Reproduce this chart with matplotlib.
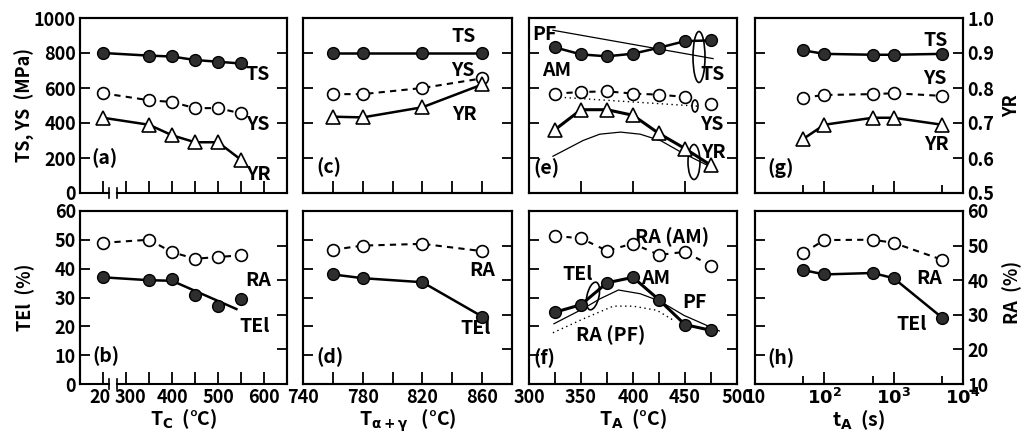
import numpy as np
import matplotlib
matplotlib.use('Agg')
import matplotlib.pyplot as plt
import matplotlib.transforms as mtransforms
from matplotlib.patches import Ellipse

plt.rcParams['font.family'] = ['Noto Sans CJK JP', 'DejaVu Sans']
plt.rcParams['font.weight'] = 'bold'
plt.rcParams['axes.labelweight'] = 'bold'
plt.rcParams['mathtext.fontset'] = 'dejavusans'
plt.rcParams['mathtext.default'] = 'bf'
plt.rcParams['font.size'] = 13

# ---- data ----
# (a),(b): cooling temperature Tc (20 = room temp, drawn past an axis break)
tc = [20, 350, 400, 450, 500, 550]
a_ts = [800, 785, 780, 760, 750, 740]
a_ys = [570, 530, 520, 485, 485, 455]
a_yr = [0.715, 0.695, 0.665, 0.645, 0.645, 0.595]
b_tel = [37, 36, 36.5, 31, 27, 29.5]
b_tel_fit_x = [20, 350, 400, 540]
b_tel_fit = [37, 36, 35.8, 26]
b_ra = [50.8, 51.7, 48.1, 46.2, 46.7, 47.2]

# (c),(d): intercritical annealing temperature
tag = [760, 780, 820, 860]
c_ts = [800, 800, 800, 800]
c_ys = [565, 565, 600, 655]
c_yr = [0.718, 0.716, 0.745, 0.81]
d_tel = [38, 36.7, 35.3, 23.4]
d_ra = [48.8, 50.0, 50.5, 48.4]

# (e),(f): austempering temperature
ta = [325, 350, 375, 400, 425, 450, 475]
e_ts_am = [832, 792, 781, 796, 830, 868, 872]
e_ts_pf_x = [323, 477]
e_ts_pf = [930, 768]
e_ys_am = [568, 577, 581, 568, 562, 549]
e_ys_last = 510
e_ys_pf_x = [325, 463]
e_ys_pf = [549, 496]
e_yr_am = [0.681, 0.738, 0.738, 0.722, 0.670, 0.627, 0.579]
e_yr_pf_x = [323, 352, 368, 388, 407, 427, 446, 475]
e_yr_pf = [0.605, 0.650, 0.668, 0.674, 0.668, 0.649, 0.617, 0.574]
f_tel_am = [24.9, 27.5, 35.1, 37.0, 29.2, 20.6, 18.6]
f_tel_pf_x = [324, 352, 368, 386, 407, 426, 449, 483]
f_tel_pf = [20.9, 26.1, 29.5, 32.6, 31.3, 28.7, 23.8, 18.4]
f_ra_am = [52.8, 52.1, 48.5, 50.6, 47.3, 48.2, 44.2]
f_ra_pf_x = [323, 352, 381, 400, 423, 439]
f_ra_pf = [24.8, 28.8, 32.5, 32.5, 31.3, 28.4]

# (g),(h): austempering time
tA = [50, 100, 500, 1000, 5000]
g_ts = [815, 795, 790, 790, 795]
g_ys = [545, 560, 565, 570, 555]
g_yr = [0.655, 0.695, 0.715, 0.715, 0.695]
h_tel = [39.5, 38, 38.5, 36.7, 23]
h_ra = [47.9, 51.6, 51.7, 50.8, 45.9]

# ---- layout in pixels of the 1024x443 figure ----
W, H = 1024, 443
PX = [80, 303, 529, 755]
PW = [207, 209, 208, 208]
ROWS = [(18, 193), (211, 384)]


def rect(col, row):
    top, bot = ROWS[row]
    return [PX[col] / W, 1 - bot / H, PW[col] / W, (bot - top) / H]


def frac(col, row, x, y):
    top, bot = ROWS[row]
    return (x - PX[col]) / PW[col], (bot - y) / (bot - top)


def label(ax, col, row, x, y, s, ha='center'):
    fx, fy = frac(col, row, x, y)
    ax.text(fx, fy, s, transform=ax.transAxes, ha=ha, va='center', fontsize=14)


def loop(ax, col, row, x, y, w, h, angle=0):
    fx, fy = frac(col, row, x, y)
    top, bot = ROWS[row]
    ax.add_patch(Ellipse((fx, fy), w / PW[col], h / (bot - top), angle=angle,
                         transform=ax.transAxes, fill=False, lw=1.2, color='k'))


def filled(ax, x, y, lw=1.8, ls='-'):
    ax.plot(x, y, ls, color='k', lw=lw, marker='o', ms=8.5, mfc='#2e2e2e',
            mec='k', mew=1.0, zorder=4)


def opened(ax, x, y, ls=(0, (3, 2.5))):
    ax.plot(x, y, color='k', lw=1.5, ls=ls, marker='o', ms=8.5, mfc='white',
            mec='k', mew=1.2, zorder=4)


def tri(ax, x, y, lw=1.8):
    ax.plot(x, y, color='k', lw=lw, marker='^', ms=10, mfc='white', mec='k',
            mew=1.2, zorder=4)


fig = plt.figure(figsize=(W / 100, H / 100), dpi=100)

axes = {}
for col in range(4):
    for row in range(2):
        ax = fig.add_axes(rect(col, row))
        ax2 = ax.twinx()
        axes[(col, row)] = (ax, ax2)
        for a in (ax, ax2):
            for sp in a.spines.values():
                sp.set_linewidth(1.5)
        if row == 0:
            ax.set_ylim(0, 1000)
            ax.set_yticks(range(0, 1001, 200))
            ax2.set_ylim(0.5, 1.0)
            ax2.set_yticks(np.round(np.arange(0.5, 1.01, 0.1), 1))
        else:
            ax.set_ylim(0, 60)
            ax.set_yticks(range(0, 61, 10))
            ax2.set_ylim(10, 60)
            ax2.set_yticks(range(10, 61, 10))
        ax.tick_params(axis='y', direction='in', length=7, width=1.3,
                       left=True, right=False, labelleft=(col == 0), pad=3)
        ax2.tick_params(axis='y', direction='in', length=7, width=1.3,
                        left=False, right=True, labelright=(col == 3), pad=3)
        ax.tick_params(axis='x', direction='in', length=9, width=1.3,
                       which='both', labelbottom=(row == 1), pad=3)
        ax2.tick_params(axis='x', bottom=False, top=False)
        if col == 3 and row == 0:
            ax2.set_yticklabels(['0.5', '0.6', '0.7', '0.8', '0.9', '1.0'])

# ---- (a),(b) ----
pos20 = 250  # axis position used for the 20 degC point before the break
tc_pos = [pos20 if t == 20 else t for t in tc]
fit_pos = [pos20 if t == 20 else t for t in b_tel_fit_x]
for row in range(2):
    ax, ax2 = axes[(0, row)]
    ax.set_xlim(200, 650)
    ax.set_xticks([250, 300, 350, 400, 450, 500, 550, 600])
    ax.set_xticklabels(['20', '300', '', '400', '', '500', '', '600'])
    ax.spines['bottom'].set_visible(False)
    ax2.spines['bottom'].set_visible(False)
    tr = ax.get_xaxis_transform()
    ax.plot([200, 262], [0, 0], color='k', lw=1.5, transform=tr, clip_on=False)
    ax.plot([281, 650], [0, 0], color='k', lw=1.5, transform=tr, clip_on=False)
    for xb in (262, 281):
        ax.plot([xb, xb], [-0.03, 0.03], color='k', lw=1.2, transform=tr,
                clip_on=False)
# spread "20" and "300" apart a little, as in the original
tl = axes[(0, 1)][0].get_xticklabels()
tl[0].set_transform(tl[0].get_transform() +
                    mtransforms.ScaledTranslation(-3 / 100, 0, fig.dpi_scale_trans))
tl[1].set_transform(tl[1].get_transform() +
                    mtransforms.ScaledTranslation(4 / 100, 0, fig.dpi_scale_trans))

ax, ax2 = axes[(0, 0)]
filled(ax, tc_pos, a_ts)
opened(ax, tc_pos, a_ys)
tri(ax2, tc_pos, a_yr)
ax.set_ylabel('TS, YS  (MPa)')
ax.yaxis.set_label_coords(-0.215, 0.5)
label(ax, 0, 0, 258, 75, 'TS')
label(ax, 0, 0, 258, 125, 'YS')
label(ax, 0, 0, 258, 175, 'YR')
label(ax, 0, 0, 91, 158, '(a)', ha='left')

ax, ax2 = axes[(0, 1)]
ax.plot(fit_pos, b_tel_fit, color='k', lw=1.8, zorder=3)
ax.plot(tc_pos, b_tel, 'o', ms=8.5, mfc='#2e2e2e', mec='k', zorder=4)
opened(ax2, tc_pos, b_ra)
ax.set_ylabel('TEl  (%)')
ax.yaxis.set_label_coords(-0.215, 0.5)
ax.set_xlabel(r'T$_\mathrm{C}$  (°C)', labelpad=0, fontsize=14)
label(ax, 0, 1, 258, 280, 'RA')
label(ax, 0, 1, 255, 326, 'TEl')
label(ax, 0, 1, 92, 356, '(b)', ha='left')

# ---- (c),(d) ----
for row in range(2):
    ax, ax2 = axes[(1, row)]
    ax.set_xlim(740, 880)
    ax.set_xticks([740, 780, 820, 860])
    ax.set_xticks([760, 800, 840], minor=True)
    ax.tick_params(axis='x', which='minor', length=9, width=1.3)

ax, ax2 = axes[(1, 0)]
filled(ax, tag, c_ts)
opened(ax, tag, c_ys)
tri(ax2, tag, c_yr)
label(ax, 1, 0, 464, 37, 'TS')
label(ax, 1, 0, 463, 71, 'YS')
label(ax, 1, 0, 464, 114, 'YR')
label(ax, 1, 0, 316, 167, '(c)', ha='left')

ax, ax2 = axes[(1, 1)]
filled(ax, tag, d_tel)
opened(ax2, tag, d_ra)
ax.set_xlabel(r'T$_{\alpha+\gamma}$   (°C)', labelpad=0, fontsize=14)
label(ax, 1, 1, 482, 270, 'RA')
label(ax, 1, 1, 476, 328, 'TEl')
label(ax, 1, 1, 316, 357, '(d)', ha='left')

# ---- (e),(f) ----
for row in range(2):
    ax, ax2 = axes[(2, row)]
    ax.set_xlim(300, 500)
    ax.set_xticks([300, 350, 400, 450, 500])
ax, ax2 = axes[(2, 1)]
ax.set_xticks([325, 375, 425, 475], minor=True)
ax.tick_params(axis='x', which='minor', length=9, width=1.3)

ax, ax2 = axes[(2, 0)]
filled(ax, ta, e_ts_am)
ax.plot(e_ts_pf_x, e_ts_pf, color='k', lw=0.9, zorder=3)
opened(ax, ta[:6], e_ys_am)
ax.plot([ta[-1]], [e_ys_last], 'o', ms=8.5, mfc='white', mec='k', mew=1.2, zorder=4)
ax.plot(e_ys_pf_x, e_ys_pf, color='k', lw=1.0, ls=(0, (1, 2.5)), zorder=3)
tri(ax2, ta, e_yr_am, lw=2.2)
ax2.plot(e_yr_pf_x, e_yr_pf, color='k', lw=0.9, zorder=3)
loop(ax, 2, 0, 699, 57, 12, 51)
loop(ax, 2, 0, 695, 106, 6, 12)
loop(ax, 2, 0, 694, 162, 12, 35)
label(ax, 2, 0, 544, 34, 'PF')
label(ax, 2, 0, 557, 71, 'AM')
label(ax, 2, 0, 713, 75, 'TS')
label(ax, 2, 0, 712, 125, 'YS')
label(ax, 2, 0, 713, 153, 'YR')
label(ax, 2, 0, 533, 168, '(e)', ha='left')

ax, ax2 = axes[(2, 1)]
filled(ax, ta, f_tel_am, lw=2.2)
ax.plot(f_tel_pf_x, f_tel_pf, color='k', lw=0.9, zorder=3)
opened(ax2, ta, f_ra_am, ls=(0, (2.5, 3)))
ax2.plot(f_ra_pf_x, f_ra_pf, color='k', lw=1.0, ls=(0, (1, 2.5)), zorder=3)
loop(ax, 2, 1, 593, 296, 12, 28, angle=-10)
ax.set_xlabel(r'T$_\mathrm{A}$  (°C)', labelpad=0, fontsize=14)
label(ax, 2, 1, 672, 237, 'RA (AM)')
label(ax, 2, 1, 578, 275, 'TEl')
label(ax, 2, 1, 656, 279, 'AM')
label(ax, 2, 1, 694, 303, 'PF')
label(ax, 2, 1, 611, 335, 'RA (PF)')
label(ax, 2, 1, 533, 358, '(f)', ha='left')

# ---- (g),(h) ----
for row in range(2):
    ax, ax2 = axes[(3, row)]
    ax.set_xscale('log')
    ax.set_xlim(10, 1e4)
    ax.set_xticks([10, 100, 1000, 10000])
    ax.set_xticks([50, 500, 5000], minor=True)
    ax.tick_params(axis='x', which='minor', length=6, width=1.3, labelbottom=False)
axes[(3, 1)][0].set_xticklabels(['10', '$10^2$', '$10^3$', '$10^4$'])

ax, ax2 = axes[(3, 0)]
filled(ax, tA, g_ts)
opened(ax, tA, g_ys)
tri(ax2, tA, g_yr)
ax2.set_ylabel('YR')
ax2.yaxis.set_label_coords(1.19, 0.5)
label(ax, 3, 0, 936, 41, 'TS')
label(ax, 3, 0, 935, 79, 'YS')
label(ax, 3, 0, 936, 144, 'YR')
label(ax, 3, 0, 767, 168, '(g)', ha='left')

ax, ax2 = axes[(3, 1)]
filled(ax, tA, h_tel)
opened(ax2, tA, h_ra)
ax2.set_ylabel('RA  (%)')
ax2.yaxis.set_label_coords(1.19, 0.53)
ax.set_xlabel(r't$_\mathrm{A}$  (s)', labelpad=0, fontsize=14)
label(ax, 3, 1, 929, 278, 'RA')
label(ax, 3, 1, 912, 325, 'TEl')
label(ax, 3, 1, 767, 358, '(h)', ha='left')

fig.savefig('out.png', dpi=100)
